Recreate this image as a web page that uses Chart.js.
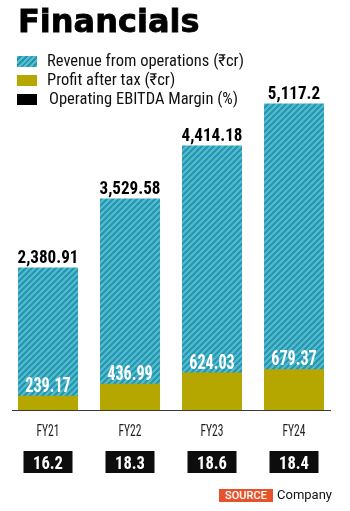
<!DOCTYPE html>
<html>
<head>
<meta charset="utf-8">
<script src="https://cdn.jsdelivr.net/npm/chart.js@4.4.1/dist/chart.umd.min.js"></script>
<style>
  html, body { margin: 0; padding: 0; background: #fff; }
  #wrap { position: relative; width: 350px; height: 511px; overflow: hidden; }
  #c { position: absolute; left: 0; top: 0; }
  .t { position: absolute; white-space: nowrap; }
  #title { left: 18px; top: 5px; font: bold 32px "DejaVu Sans", sans-serif; line-height: 32px; color: #000;
           -webkit-text-stroke: 0.8px #000; }
  .row { position: absolute; left: 17px; height: 16px; }
  .box { position: absolute; left: 0; width: 20px; height: 11px; }
  .lbl { position: absolute; top: 0; font: 16.5px "Roboto Condensed", Roboto, sans-serif; line-height: 16px; color: #111;
         white-space: nowrap; }
  #src { left: 219px; top: 489px; width: 54px; height: 13px; background: #e8512a; color: #fff;
         font: 500 11px Roboto, sans-serif; line-height: 13px; text-align: center; }
  #co { left: 277px; top: 488px; font: 13px Roboto, sans-serif; line-height: 13px; color: #111; }
</style>
</head>
<body>
<div id="wrap">
  <canvas id="c" width="350" height="511"></canvas>
  <div class="t" id="title">Financials</div>
  <div class="row" style="top:53px"><div class="box" id="b1" style="top:3px"></div><div class="lbl" style="left:30px">Revenue from operations (₹cr)</div></div>
  <div class="row" style="top:71.5px"><div class="box" style="top:3px;background:#b5a600"></div><div class="lbl" style="left:30px">Profit after tax (₹cr)</div></div>
  <div class="row" style="top:90.5px"><div class="box" style="top:3px;background:#000"></div><div class="lbl" style="left:32px">Operating EBITDA Margin (%)</div></div>
  <div class="t" id="src">SOURCE</div>
  <div class="t" id="co">Company</div>
</div>
<script>
const years = ["FY21", "FY22", "FY23", "FY24"];
const revenue = [2380.91, 3529.58, 4414.18, 5117.2];
const profit = [239.17, 436.99, 624.03, 679.37];
const ebitdaMargin = [16.2, 18.3, 18.6, 18.4];

const teal = "#55bdd1";
const tealDark = "#2596ad";
const olive = "#b5a600";
const cond = '"Roboto Condensed", Roboto';

function hatch() {
  const s = 6;
  const p = document.createElement("canvas");
  p.width = s; p.height = s;
  const g = p.getContext("2d");
  g.fillStyle = teal;
  g.fillRect(0, 0, s, s);
  g.strokeStyle = tealDark;
  g.lineWidth = 2.2;
  g.beginPath();
  g.moveTo(-1, 1); g.lineTo(1, -1);
  g.moveTo(0, s); g.lineTo(s, 0);
  g.moveTo(s - 1, s + 1); g.lineTo(s + 1, s - 1);
  g.stroke();
  return p;
}

document.getElementById("b1").style.background =
  "repeating-linear-gradient(135deg, " + teal + " 0 2px, " + tealDark + " 2px 4px)";

const ctx = document.getElementById("c");
const pattern = ctx.getContext("2d").createPattern(hatch(), "repeat");

function txt(g, s, x, y, font, color, sx) {
  g.save();
  g.font = font;
  g.fillStyle = color;
  g.textAlign = "center";
  g.textBaseline = "alphabetic";
  g.translate(x, y);
  g.scale(sx, 1);
  g.fillText(s, 0, 0);
  g.restore();
}

const fmt = v => v.toLocaleString("en-US", { maximumFractionDigits: 2 });

const labelsPlugin = {
  id: "labels",
  afterDatasetsDraw(chart) {
    const g = chart.ctx;
    const area = chart.chartArea;
    const rev = chart.getDatasetMeta(0).data;
    const pat = chart.getDatasetMeta(1).data;
    const x = chart.scales.x;

    // baseline rule, a little shorter than the plot area
    g.save();
    g.strokeStyle = "#3a3a3a";
    g.lineWidth = 1;
    g.beginPath();
    g.moveTo(area.left + 5, area.bottom + 0.5);
    g.lineTo(area.right - 4, area.bottom + 0.5);
    g.stroke();
    g.restore();

    years.forEach((yr, i) => {
      const cx = x.getPixelForValue(i);
      txt(g, fmt(revenue[i]), cx, rev[i].y - 4.5, "bold 19px " + cond, "#000", 0.9);
      txt(g, fmt(profit[i]), cx, pat[i].y - 4, "bold 21px " + cond, "#fff", 0.77);
      txt(g, yr, cx, 436, "16px " + cond, "#222", 0.72);
      g.fillStyle = "#0d0d0d";
      g.fillRect(cx - 24.5, 451, 49, 22);
      txt(g, String(ebitdaMargin[i]), cx, 469, "bold 18px " + cond, "#fff", 0.92);
    });
  }
};

new Chart(ctx, {
  type: "bar",
  data: {
    labels: years,
    datasets: [
      {
        label: "Revenue from operations (₹cr)",
        data: revenue,
        backgroundColor: pattern,
        order: 2,
        grouped: false,
        barPercentage: 0.732,
        categoryPercentage: 1,
      },
      {
        label: "Profit after tax (₹cr)",
        data: profit,
        backgroundColor: olive,
        order: 1,
        grouped: false,
        barPercentage: 0.732,
        categoryPercentage: 1,
      },
    ],
  },
  options: {
    responsive: false,
    animation: false,
    layout: { padding: { top: 100, bottom: 101, left: 7, right: 15 } },
    plugins: { legend: { display: false }, tooltip: { enabled: false } },
    scales: {
      x: {
        grid: { display: false, drawTicks: false },
        border: { display: false },
        ticks: { display: false },
      },
      y: { display: false, min: 0, max: 5175 },
    },
  },
  plugins: [labelsPlugin],
});
</script>
</body>
</html>
